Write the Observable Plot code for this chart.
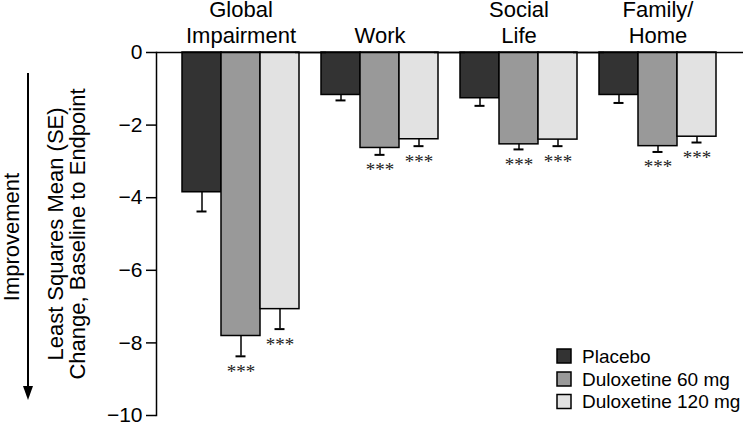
<!DOCTYPE html>
<html>
<head>
<meta charset="utf-8">
<script src="https://cdn.jsdelivr.net/npm/d3@7"></script>
<script src="https://cdn.jsdelivr.net/npm/@observablehq/plot@0.6"></script>
<style>
  html, body { margin: 0; padding: 0; background: #fff; }
  #chart { width: 743px; height: 423px; }
</style>
</head>
<body>
<div id="chart"></div>
<script>
const groups = ["Global\nImpairment", "Work", "Social\nLife", "Family/\nHome"];
const treatments = ["Placebo", "Duloxetine 60 mg", "Duloxetine 120 mg"];
const colors = ["#333333", "#999999", "#e2e2e2"];
const yTicks = [0, -2, -4, -6, -8, -10];

const placeboMean = [-3.85, -1.17, -1.26, -1.17];
const placeboSE   = [0.53, 0.15, 0.21, 0.22];
const placeboSig  = ["", "", "", ""];

const dlx60Mean = [-7.81, -2.63, -2.53, -2.58];
const dlx60SE   = [0.56, 0.19, 0.14, 0.16];
const dlx60Sig  = ["***", "***", "***", "***"];

const dlx120Mean = [-7.07, -2.39, -2.40, -2.32];
const dlx120SE   = [0.55, 0.19, 0.18, 0.16];
const dlx120Sig  = ["***", "***", "***", "***"];

const yLabelLines = ["Least Squares Mean (SE)", "Change, Baseline to Endpoint"];
const directionLabel = "Improvement";

const series = [
  [placeboMean, placeboSE, placeboSig],
  [dlx60Mean, dlx60SE, dlx60Sig],
  [dlx120Mean, dlx120SE, dlx120Sig]
];
const data = [];
groups.forEach((g, gi) => {
  treatments.forEach((t, ti) => {
    const [m, se, sig] = series[ti];
    data.push({group: g, treatment: t, value: m[gi], se: se[gi], sig: sig[gi]});
  });
});

const font = "'Liberation Sans', Arial, Helvetica, sans-serif";

const plot = Plot.plot({
  width: 743,
  height: 423,
  marginLeft: 170,
  marginRight: 16,
  marginTop: 52,
  marginBottom: 8,
  style: {fontFamily: font, color: "#000", background: "#fff"},
  fx: {domain: groups, padding: 0},
  x: {domain: treatments, paddingInner: 0, paddingOuter: 0.27, axis: null},
  y: {domain: [-10, 0]},
  color: {domain: treatments, range: colors},
  marks: [
    Plot.barY(data, {fx: "group", x: "treatment", y: "value", fill: "treatment", stroke: "#000", strokeWidth: 1.5}),
    Plot.ruleX(data, {fx: "group", x: "treatment", y1: "value", y2: d => d.value - d.se, stroke: "#000", strokeWidth: 1.5}),
    Plot.tickY(data, {fx: "group", x: "treatment", y: d => d.value - d.se, insetLeft: 14.5, insetRight: 14.5, stroke: "#000", strokeWidth: 2}),
    Plot.text(data, {fx: "group", x: "treatment", y: d => d.value - d.se, text: "sig", lineAnchor: "top", dy: 8, fontSize: 19, fontFamily: "'Liberation Serif', 'Times New Roman', serif", fill: "#222"}),
    Plot.ruleY([0], {insetLeft: -15, insetRight: -16, stroke: "#000", strokeWidth: 1.5}),
    Plot.frame({anchor: "left", facetAnchor: "left", dx: -15, stroke: "#000", strokeWidth: 1.5}),
    Plot.axisY({ticks: yTicks, tickSize: 10, tickPadding: 4, dx: -15, fontSize: 21, label: null, strokeWidth: 1.5}),
    Plot.axisFx({anchor: "top", label: null, tickSize: 0, tickPadding: 10, fontSize: 22, lineHeight: 1.14})
  ]
});

document.getElementById("chart").appendChild(plot);

// Overlay: y-axis title, direction arrow and legend
const svg = d3.select(plot);
const color = plot.scale("color");

const yl = svg.append("g").attr("font-family", font).attr("font-size", 22).attr("fill", "#000").attr("text-anchor", "middle");
const baselineX = [63, 85];
yLabelLines.forEach((txt, i) => {
  yl.append("text")
    .attr("transform", `translate(${baselineX[i]},234) rotate(-90)`)
    .text(txt);
});
yl.append("text")
  .attr("transform", `translate(19,237) rotate(-90)`)
  .text(directionLabel);

const arrow = svg.append("g");
arrow.append("line").attr("x1", 28).attr("x2", 28).attr("y1", 73).attr("y2", 390)
  .attr("stroke", "#000").attr("stroke-width", 2);
arrow.append("path").attr("d", "M23,386 L33,386 L28,400 Z").attr("fill", "#000");

const lg = svg.append("g").attr("font-family", font).attr("font-size", 19).attr("text-anchor", "start");
const rowY = [356, 379, 401.5];
treatments.forEach((t, i) => {
  lg.append("rect").attr("x", 557).attr("y", rowY[i] - 7).attr("width", 14).attr("height", 14)
    .attr("fill", color.apply(t)).attr("stroke", "#000").attr("stroke-width", 1.5);
  lg.append("text").attr("x", 582).attr("y", rowY[i]).attr("dy", "0.35em").attr("fill", "#000").text(t);
});
</script>
</body>
</html>
